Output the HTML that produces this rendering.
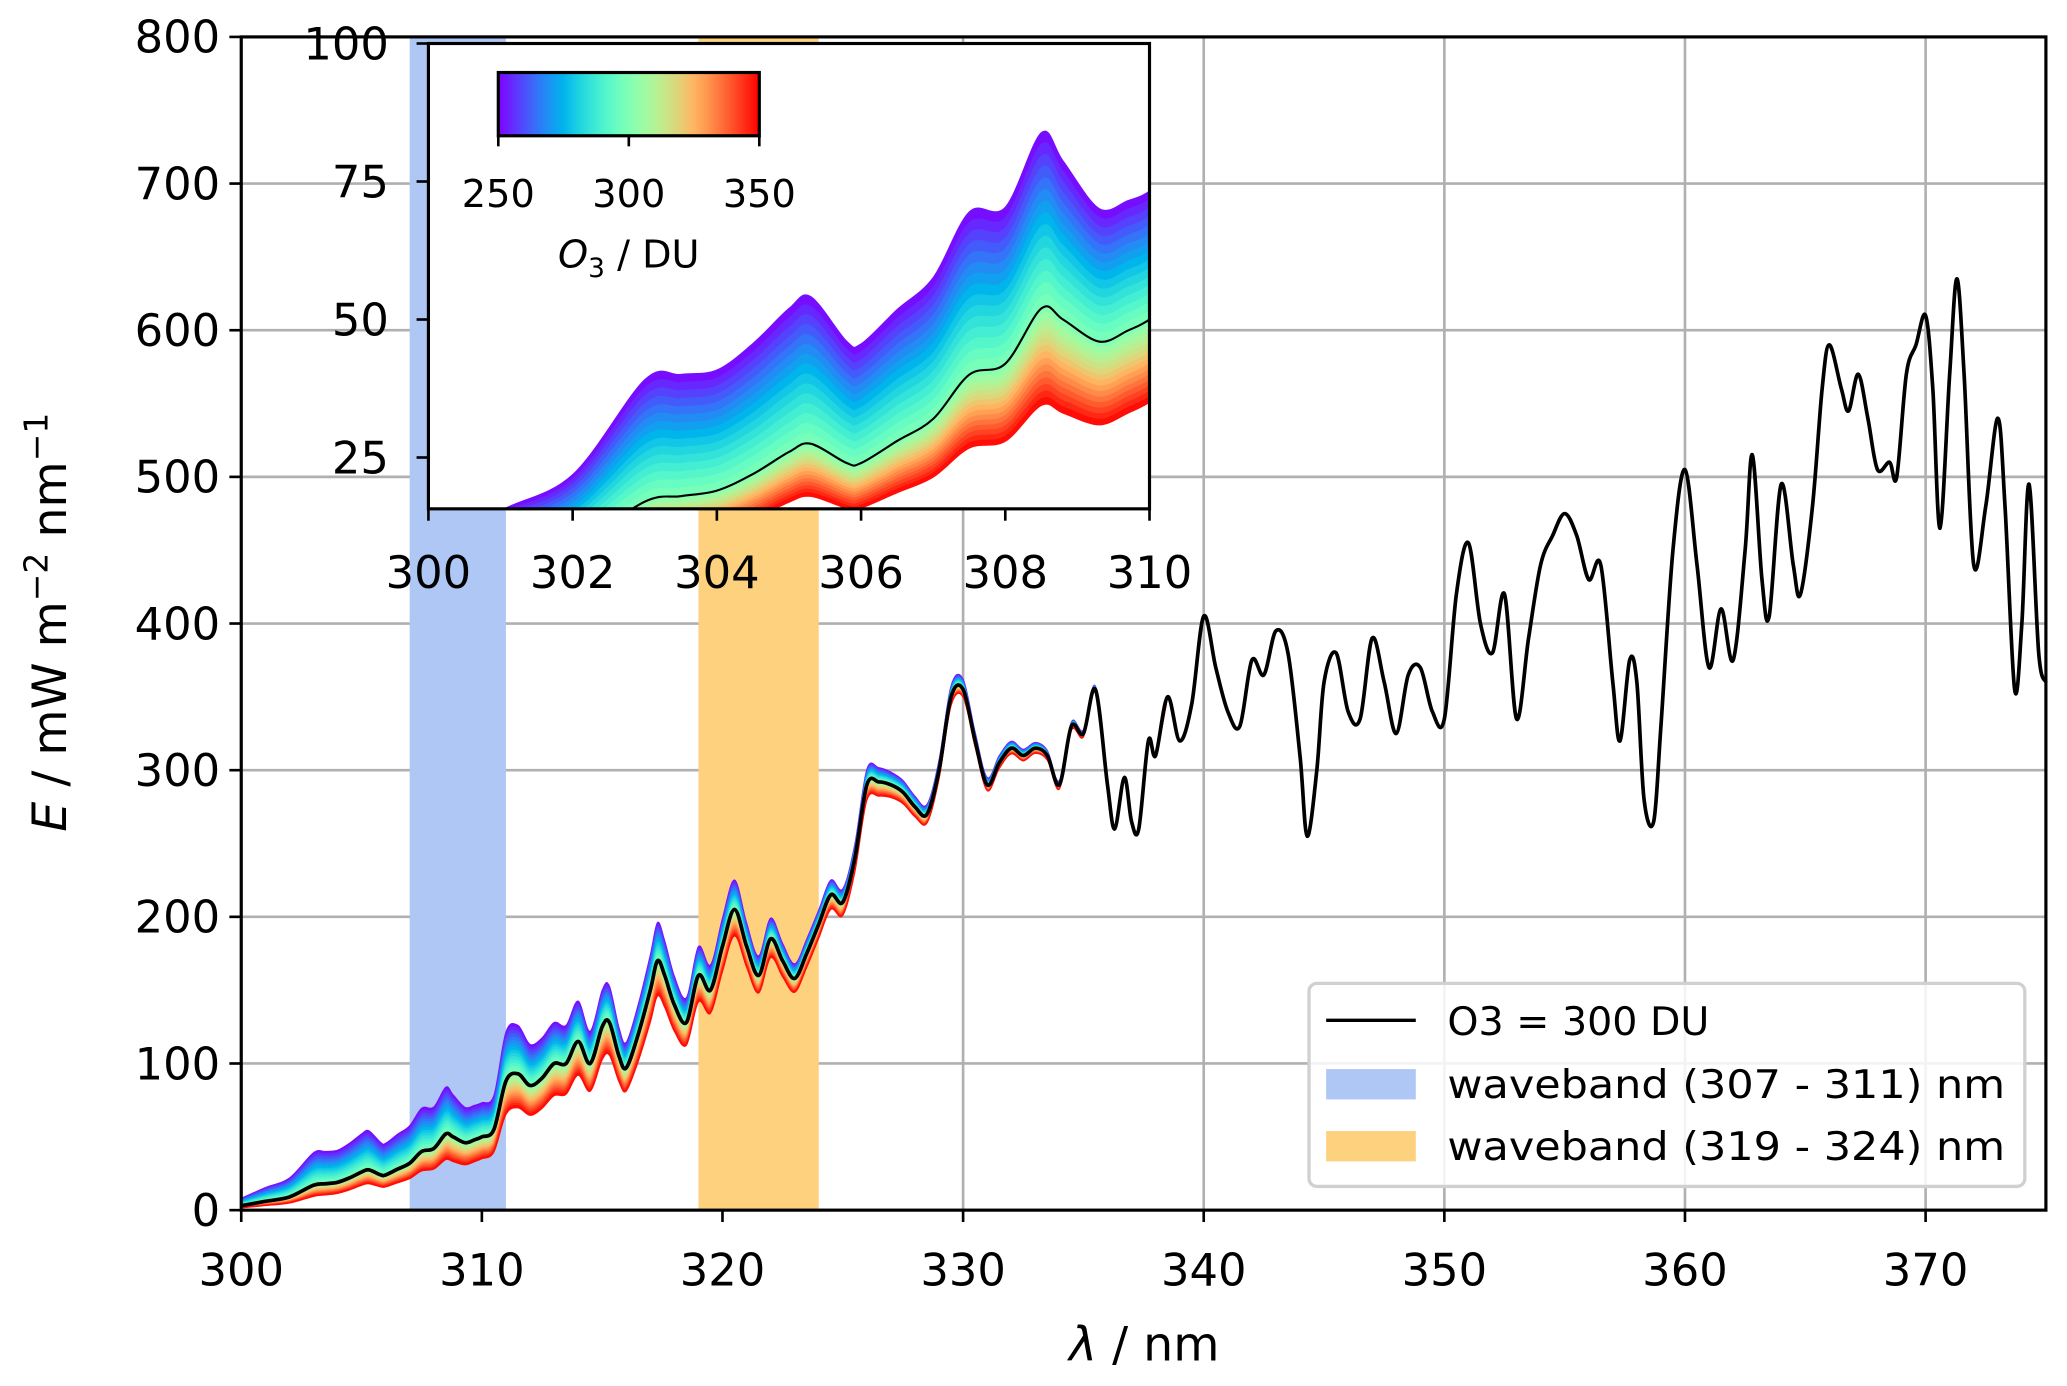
<!DOCTYPE html>
<html><head><meta charset="utf-8"><style>
html,body{margin:0;padding:0;background:#fff;}
svg{display:block;font-family:"DejaVu Sans","Liberation Sans",sans-serif;}
</style></head><body>
<svg id="chart" width="2067" height="1386" viewBox="0 0 1568 1051.4" preserveAspectRatio="none" xmlns="http://www.w3.org/2000/svg"></svg>
<script>
const wavelengths=[300,301,302,303,303.5,304,304.5,305,305.3,305.8,306,306.5,307,307.5,308,308.5,308.8,309.3,309.7,310,310.5,311,311.5,312,312.5,313,313.5,314,314.5,315,315.3,315.7,316,316.5,317,317.3,317.6,318,318.5,319,319.5,320,320.5,321,321.5,322,322.5,323,323.5,324,324.5,325,325.5,326,326.5,327,327.5,328,328.5,329,329.5,330,330.5,331,331.5,332,332.5,333,333.5,334,334.5,335,335.5,336,336.3,336.7,337,337.3,337.7,338,338.5,339,339.5,340,340.5,341,341.5,342,342.5,343,343.5,344,344.3,344.7,345,345.5,346,346.5,347,347.5,348,348.5,349,349.5,350,350.5,351,351.5,352,352.5,353,353.5,354,354.5,355,355.5,356,356.5,357,357.3,357.7,358,358.3,358.7,359,359.5,360,360.5,361,361.5,362,362.5,362.8,363.2,363.5,364,364.5,364.8,365.3,365.7,366,366.5,366.8,367.2,367.6,368,368.5,368.8,369.2,369.6,370,370.3,370.6,371,371.3,371.6,372,372.5,373,373.3,373.7,374,374.3,374.7,375];
const irradiance300=[3,6,9,17,18,19,22,26,27.5,24,24,28,32,40,42,52,50,46,48,50,55,88,93,85,90,100,100,115,100,125,128,105,97,120,150,170,160,140,128,160,150,180,205,180,160,185,170,158,175,195,215,210,240,290,292,290,285,275,270,300,350,355,320,290,305,315,310,315,310,290,330,325,355,290,260,295,265,260,320,310,350,320,345,405,370,340,330,375,365,395,380,310,255,300,360,380,340,335,390,360,325,365,370,340,335,420,455,400,380,420,335,390,440,460,475,460,430,440,360,320,375,360,280,265,330,450,505,440,370,410,375,450,515,430,405,495,440,420,480,560,590,560,545,570,540,505,510,500,570,590,610,560,465,570,635,570,440,480,540,480,355,400,495,380,360];
const factorKnots=[300,303,305,307,309,311,313,315,318,321,324,327,330,334,338];
const factor250=[2.7,2.3,2.0,1.8,1.55,1.38,1.28,1.2,1.14,1.09,1.05,1.03,1.02,1.01,1.0];
const factor350=[0.5,0.55,0.65,0.67,0.66,0.74,0.78,0.82,0.87,0.92,0.95,0.97,0.985,0.99,1.0];
const yTicks=[0,100,200,300,400,500,600,700,800];
const xTicks=[300,310,320,330,340,350,360,370];
const insetXTicks=[300,302,304,306,308,310];
const insetYTicks=[25,50,75,100];
const cbTicks=[250,300,350];
const bands=[[307,311,'#aec7f5','waveband-307-311'],[319,324,'#fed17f','waveband-319-324']];

const NS='http://www.w3.org/2000/svg';
const svg=document.getElementById('chart');
function mk(tag,attrs,parent){const e=document.createElementNS(NS,tag);for(const k in attrs)e.setAttribute(k,attrs[k]);(parent||svg).appendChild(e);return e;}
const P={x0:183,x1:1552,y0:918,y1:28,xmin:300,xmax:375,ymin:0,ymax:800};
const X=v=>P.x0+(v-P.xmin)/(P.xmax-P.xmin)*(P.x1-P.x0);
const Y=v=>P.y0-(v-P.ymin)/(P.ymax-P.ymin)*(P.y0-P.y1);
const I={x0:325,x1:872,y0:386,y1:33,xmin:300,xmax:310,ymin:15.7,ymax:100};
const IX=v=>I.x0+(v-I.xmin)/(I.xmax-I.xmin)*(I.x1-I.x0);
const IY=v=>I.y0-(v-I.ymin)/(I.ymax-I.ymin)*(I.y0-I.y1);
function interp(kx,ky,x){if(x<=kx[0])return ky[0];for(let i=1;i<kx.length;i++){if(x<=kx[i]){const t=(x-kx[i-1])/(kx[i]-kx[i-1]);return ky[i-1]+t*(ky[i]-ky[i-1]);}}return ky[ky.length-1];}
function levelValue(i,t){const up=interp(factorKnots,factor250,wavelengths[i]);const lo=interp(factorKnots,factor350,wavelengths[i]);const r=t<0.5?up+(1-up)*(t/0.5):1+(lo-1)*((t-0.5)/0.5);return irradiance300[i]*r;}
function rainbow(t){const r=Math.min(1,Math.abs(2*t-0.5)),g=Math.sin(Math.PI*t),b=Math.cos(Math.PI*t/2);return `rgb(${Math.round(r*255)},${Math.round(g*255)},${Math.round(b*255)})`;}
function smooth(pts,move){let d=(move?'M':'L')+pts[0][0].toFixed(2)+','+pts[0][1].toFixed(2);for(let i=0;i<pts.length-1;i++){const p0=pts[Math.max(0,i-1)],p1=pts[i],p2=pts[i+1],p3=pts[Math.min(pts.length-1,i+2)];const c1=[p1[0]+(p2[0]-p0[0])/6,p1[1]+(p2[1]-p0[1])/6],c2=[p2[0]-(p3[0]-p1[0])/6,p2[1]-(p3[1]-p1[1])/6];d+='C'+c1[0].toFixed(2)+','+c1[1].toFixed(2)+' '+c2[0].toFixed(2)+','+c2[1].toFixed(2)+' '+p2[0].toFixed(2)+','+p2[1].toFixed(2);}return d;}
const bandIdx=[];wavelengths.forEach((w,i)=>{if(w<=338.5)bandIdx.push(i);});
function drawBand(parent,fx,fy,name){const N=30;for(let k=0;k<N;k++){const t0=k/N,t1=(k+1)/N;const a=bandIdx.map(i=>[fx(wavelengths[i]),fy(levelValue(i,t0))]);const b=bandIdx.map(i=>[fx(wavelengths[i]),fy(levelValue(i,t1))]).reverse();const d=smooth(a,true)+smooth(b,false)+'Z';const c=rainbow((t0+t1)/2);const p=mk('path',{d:d,fill:c,stroke:c,'stroke-width':0.8},parent);

}}
function linePath(fx,fy){return smooth(wavelengths.map((w,i)=>[fx(w),fy(irradiance300[i])]),true);}

xTicks.forEach(v=>{const l=mk('line',{x1:X(v),x2:X(v),y1:P.y1,y2:P.y0,stroke:'#b0b0b0','stroke-width':2});

});
yTicks.forEach(v=>{const l=mk('line',{x1:P.x0,x2:P.x1,y1:Y(v),y2:Y(v),stroke:'#b0b0b0','stroke-width':2});

});
bands.forEach(b=>{const r=mk('rect',{x:X(b[0]),y:P.y1,width:X(b[1])-X(b[0]),height:P.y0-P.y1,fill:b[2]});

});
drawBand(svg,X,Y,'ozone-range');
const ml=mk('path',{d:linePath(X,Y),fill:'none',stroke:'#000','stroke-width':2.8,'stroke-linejoin':'round'});


const fr=mk('rect',{x:P.x0,y:P.y1,width:P.x1-P.x0,height:P.y0-P.y1,fill:'none',stroke:'#000','stroke-width':2.4});


xTicks.forEach(v=>{mk('line',{x1:X(v),x2:X(v),y1:P.y0,y2:P.y0+9,stroke:'#000','stroke-width':2});const t=mk('text',{x:X(v),y:P.y0+57,'font-size':34,'text-anchor':'middle'});t.textContent=v;

});
yTicks.forEach(v=>{mk('line',{x1:P.x0-9,x2:P.x0,y1:Y(v),y2:Y(v),stroke:'#000','stroke-width':2});const t=mk('text',{x:P.x0-16,y:Y(v)+12,'font-size':34,'text-anchor':'end'});t.textContent=v;

});
const xl=mk('text',{x:868,y:1032,'font-size':36,'text-anchor':'middle'});xl.innerHTML='<tspan font-style="italic">λ</tspan> / nm';


const yl=mk('text',{x:0,y:0,'font-size':36,'text-anchor':'middle',transform:'translate(50,472) rotate(-90)'});yl.innerHTML='<tspan font-style="italic">E</tspan> / mW m<tspan dy="-14" font-size="25">−2</tspan><tspan dy="14"> nm</tspan><tspan dy="-14" font-size="25">−1</tspan>';



const lg=mk('g',{});


mk('rect',{x:993,y:746,width:543,height:154,rx:6,fill:'#fff','fill-opacity':0.85,stroke:'#d0d0d0','stroke-width':2.5},lg);
mk('line',{x1:1006,x2:1074,y1:774,y2:774,stroke:'#000','stroke-width':2.6},lg);
mk('rect',{x:1006,y:811,width:68,height:23,fill:'#aec7f5'},lg);
mk('rect',{x:1006,y:858,width:68,height:23,fill:'#fed17f'},lg);
[['O3 = 300 DU',785,'legend-entry-o3-300',null],['waveband (307 - 311) nm',833,'legend-entry-waveband-307-311',423],['waveband (319 - 324) nm',880,'legend-entry-waveband-319-324',423]].forEach(a=>{const at={x:1098,y:a[1],'font-size':30};if(a[3]){at.textLength=a[3];at.lengthAdjust='spacingAndGlyphs';}const t=mk('text',at,lg);t.textContent=a[0];

});

const ins=mk('g',{});


mk('rect',{x:I.x0,y:I.y1,width:I.x1-I.x0,height:I.y0-I.y1,fill:'#fff'},ins);
const defs=mk('defs',{});mk('rect',{x:I.x0,y:I.y1,width:I.x1-I.x0,height:I.y0-I.y1},mk('clipPath',{id:'ic'},defs));
const ic=mk('g',{'clip-path':'url(#ic)'},ins);
drawBand(ic,IX,IY,'inset-ozone-range');
const il=mk('path',{d:linePath(IX,IY),fill:'none',stroke:'#000','stroke-width':1.6},ic);


mk('rect',{x:I.x0,y:I.y1,width:I.x1-I.x0,height:I.y0-I.y1,fill:'none',stroke:'#000','stroke-width':2.4},ins);
insetXTicks.forEach(v=>{mk('line',{x1:IX(v),x2:IX(v),y1:I.y0,y2:I.y0+9,stroke:'#000','stroke-width':2},ins);const t=mk('text',{x:IX(v),y:I.y0+60,'font-size':34,'text-anchor':'middle'},ins);t.textContent=v;

});
insetYTicks.forEach(v=>{mk('line',{x1:I.x0-9,x2:I.x0,y1:IY(v),y2:IY(v),stroke:'#000','stroke-width':2},ins);const t=mk('text',{x:I.x0-30,y:IY(v)+12,'font-size':34,'text-anchor':'end'},ins);t.textContent=v;

});

const cb=mk('g',{});


const gr=mk('linearGradient',{id:'rb',x1:0,x2:1,y1:0,y2:0},defs);
for(let k=0;k<=20;k++)mk('stop',{offset:k/20,'stop-color':rainbow(k/20)},gr);
const CB={x0:378,x1:576,y0:55,y1:103};
mk('rect',{x:CB.x0,y:CB.y0,width:CB.x1-CB.x0,height:CB.y1-CB.y0,fill:'url(#rb)',stroke:'#000','stroke-width':2.4},cb);
cbTicks.forEach(v=>{const x=CB.x0+(v-250)/100*(CB.x1-CB.x0);mk('line',{x1:x,x2:x,y1:CB.y1,y2:CB.y1+8,stroke:'#000','stroke-width':2},cb);const t=mk('text',{x:x,y:157,'font-size':29,'text-anchor':'middle'},cb);t.textContent=v;

});
const ct=mk('text',{x:477,y:203,'font-size':29,'text-anchor':'middle'},cb);ct.innerHTML='<tspan font-style="italic">O</tspan><tspan font-size="20" dy="7">3</tspan><tspan dy="-7"> / DU</tspan>';


</script>
</body></html>
